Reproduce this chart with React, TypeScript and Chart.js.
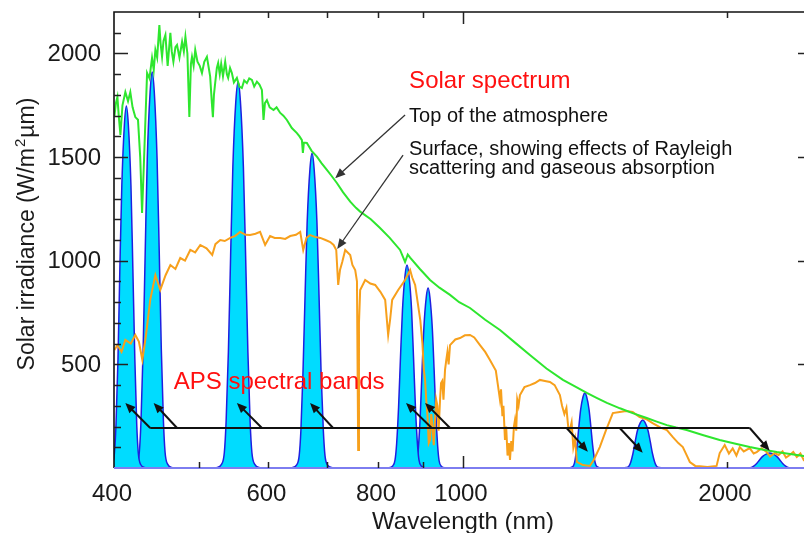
import React, { useEffect, useRef } from 'react';
import { Chart, registerables } from 'chart.js';
Chart.register(...registerables);

// ---------- data (wavelength nm, irradiance W/m2/um) ----------
const toaWavelength = [400.4, 402, 403.6, 405, 406.8, 409, 412.1, 415, 417.5, 420, 423, 426, 428.5, 430.6, 432.5, 434.4, 436.3, 439, 442, 444, 445.9, 448, 450.6, 452, 453.8, 455.5, 457.8, 460.5, 463.8, 465.5, 467.5, 470, 472, 475, 478.3, 480.5, 482.5, 485, 487.5, 489.5, 490.9, 493, 495.1, 498, 501, 503.9, 507, 510.5, 513, 514.9, 517.2, 518.6, 520, 521.7, 524, 525.8, 528, 530, 532.5, 535.6, 538, 539.8, 542.5, 545.1, 548, 552.3, 556, 559.6, 563, 567, 570.5, 574.5, 578, 582.1, 586, 589.8, 592.3, 594.5, 597.6, 602, 608.1, 613, 618.9, 624, 629.8, 638, 646.6, 651, 655.1, 656.8, 658.5, 663.7, 672, 681.4, 690, 699.5, 708, 718.1, 730, 743.7, 755, 763.4, 785, 804.3, 825, 847.7, 858.9, 865, 870.4, 893, 917.1, 940, 966.5, 990, 1018.6, 1060, 1102, 1150, 1192, 1245, 1300, 1340, 1384, 1420, 1459, 1510, 1561, 1620, 1660, 1708, 1750, 1799, 1880, 1962, 2040, 2123, 2200, 2279, 2360, 2446, 2500];
const toaIrradiance = [1695, 1760, 1790, 1700, 1607, 1750, 1814, 1770, 1814, 1740, 1693, 1680, 1500, 1230, 1450, 1679, 1906, 1880, 1978, 1920, 2017, 1980, 2137, 2050, 1984, 2060, 2089, 1940, 2099, 2010, 1960, 2030, 2041, 1980, 2057, 2010, 2081, 2000, 1693, 1950, 1984, 1940, 2017, 1960, 1940, 1906, 1960, 1984, 1930, 1888, 1760, 1693, 1800, 1857, 1930, 1954, 1900, 1950, 1890, 1960, 1900, 1882, 1930, 1906, 1860, 1882, 1840, 1833, 1870, 1857, 1880, 1872, 1840, 1864, 1850, 1824, 1679, 1760, 1775, 1740, 1727, 1740, 1713, 1700, 1679, 1640, 1616, 1600, 1582, 1520, 1570, 1568, 1530, 1502, 1470, 1438, 1410, 1375, 1330, 1285, 1255, 1237, 1200, 1158, 1110, 1052, 994, 1030, 1015, 960, 907, 870, 835, 800, 772, 715, 666, 600, 545, 480, 425, 395, 362, 338, 314, 288, 265, 241, 225, 207, 195, 183, 158, 135, 118, 101, 88, 77, 68, 58, 54];

const surfaceWavelength = [400.4, 403.6, 408, 412.1, 418, 423, 427, 430.9, 435, 439.9, 445.9, 451.7, 458, 463.8, 470, 476, 482, 488.7, 495, 501.7, 510, 517.7, 522, 528.7, 535, 542.8, 550, 557, 565, 571.8, 580, 587, 594.8, 602.6, 610, 618.9, 627, 635.3, 645, 652.2, 657.4, 663, 669.3, 678, 687.5, 697, 705.7, 712, 716.9, 720.6, 724, 728.3, 734, 743.7, 748, 753.5, 757, 759.4, 761, 763.4, 773.5, 784, 794.1, 805, 815.2, 821.6, 826, 830.3, 843.5, 858.9, 870.4, 875, 881.9, 893.9, 899, 902, 905.2, 908, 911, 914, 917.1, 920, 923, 926, 929.2, 932, 935, 938, 941.5, 944, 947, 950, 953.9, 957, 960, 963, 966.5, 980, 992.2, 1005, 1018.6, 1030, 1045.6, 1060, 1073.3, 1090, 1096, 1102, 1105, 1109, 1112, 1116.5, 1120, 1124, 1128, 1131.3, 1135, 1139, 1143, 1146.2, 1150, 1153, 1157, 1161.3, 1175, 1192, 1208, 1223.8, 1240, 1256.3, 1272, 1289.7, 1297, 1305, 1312, 1318, 1324, 1330, 1336, 1342, 1348.5, 1370, 1395, 1410, 1432.1, 1455, 1482, 1509, 1535, 1561, 1590, 1620, 1645, 1680, 1708, 1734, 1760, 1781, 1800, 1814, 1840, 1862, 1900, 1946, 1962, 1988, 2010, 2030, 2050, 2068, 2090, 2123, 2145, 2162, 2190, 2219, 2240, 2267, 2290, 2314, 2335, 2358, 2380, 2402, 2425, 2446, 2470, 2500];
const surfaceIrradiance = [569, 593, 560, 618, 600, 642, 610, 521, 640, 811, 931, 859, 930, 979, 960, 1013, 1000, 1052, 1040, 1076, 1060, 1028, 1080, 1100, 1095, 1110, 1120, 1139, 1125, 1124, 1130, 1139, 1076, 1119, 1110, 1110, 1105, 1119, 1125, 1139, 1052, 1110, 1124, 1115, 1110, 1100, 1090, 1076, 1052, 883, 955, 994, 1052, 1028, 980, 955, 900, 87, 700, 859, 907, 890, 883, 850, 811, 642, 720, 811, 859, 907, 955, 920, 883, 714, 600, 480, 425, 330, 250, 120, 135, 260, 200, 110, 232, 330, 300, 180, 328, 410, 420, 330, 473, 520, 560, 500, 593, 620, 627, 640, 642, 630, 593, 560, 521, 470, 400, 328, 380, 250, 300, 135, 200, 60, 120, 39, 130, 80, 200, 232, 180, 330, 300, 352, 390, 400, 410, 425, 420, 415, 400, 352, 300, 260, 290, 200, 183, 220, 100, 140, 29, 14, 10, 40, 101, 180, 265, 270, 275, 270, 246, 235, 217, 195, 183, 150, 120, 101, 60, 29, 10, 8, 5, 10, 72, 111, 70, 95, 60, 101, 80, 96, 70, 77, 95, 77, 55, 72, 63, 80, 50, 63, 77, 53, 70, 39, 55, 48];

// APS spectral band responses [wavelength, irradiance]
const band410: [number, number][] = [[392.6, 0], [398.0, 17], [400.4, 70], [402.1, 210], [404.2, 524], [406.2, 961], [408.3, 1363], [411.1, 1660], [413.2, 1747], [415.3, 1660], [418.2, 1363], [420.3, 961], [422.5, 524], [424.6, 210], [426.4, 70], [429.0, 17], [434.9, 0]];
const band443: [number, number][] = [[418.5, 0], [424.7, 19], [427.5, 76], [429.4, 229], [431.8, 573], [434.2, 1051], [436.5, 1491], [439.8, 1815], [442.2, 1911], [444.6, 1815], [447.9, 1491], [450.4, 1051], [452.9, 573], [455.4, 229], [457.4, 76], [460.4, 19], [467.2, 0]];
const band555: [number, number][] = [[522.3, 0], [530.7, 19], [534.4, 75], [536.9, 224], [540.1, 559], [543.3, 1025], [546.5, 1454], [550.8, 1771], [554.1, 1864], [557.4, 1771], [561.8, 1454], [565.1, 1025], [568.5, 559], [571.8, 224], [574.5, 75], [578.6, 19], [587.8, 0]];
const band670: [number, number][] = [[636.8, 0], [646.2, 15], [650.5, 61], [653.4, 182], [656.9, 455], [660.6, 835], [664.2, 1184], [669.1, 1442], [672.8, 1518], [676.5, 1442], [681.5, 1184], [685.2, 835], [689.0, 455], [693.0, 182], [696.0, 61], [700.5, 15], [710.9, 0]];
const band865: [number, number][] = [[820.2, 0], [831.5, 10], [836.6, 39], [840.1, 117], [844.4, 294], [848.7, 538], [853.1, 764], [858.9, 930], [863.3, 979], [867.7, 930], [873.7, 764], [878.1, 538], [882.6, 294], [887.2, 117], [890.8, 39], [896.3, 10], [908.6, 0]];
const band910: [number, number][] = [[870.3, 0], [881.4, 9], [886.4, 35], [889.7, 104], [894.0, 260], [898.2, 477], [902.4, 677], [908.1, 825], [912.4, 868], [916.7, 825], [922.5, 677], [926.9, 477], [931.3, 260], [935.7, 104], [939.2, 35], [944.5, 9], [956.6, 0]];
const band1370: [number, number][] = [[1313.5, 0], [1330.2, 4], [1337.7, 14], [1342.7, 43], [1349.2, 109], [1355.5, 199], [1361.9, 282], [1370.5, 344], [1377, 362], [1383.5, 344], [1392.3, 282], [1398.9, 199], [1405.5, 109], [1412.1, 43], [1417.5, 14], [1425.5, 4], [1443.6, 0]];
const band1610: [number, number][] = [[1511.1, 0], [1535.2, 2], [1545.9, 9], [1553.3, 28], [1562.4, 70], [1571.7, 128], [1581.0, 181], [1593.5, 220], [1603, 232], [1612.5, 220], [1625.3, 181], [1634.9, 128], [1644.5, 70], [1654.3, 28], [1662.2, 9], [1673.9, 2], [1700.5, 0]];
const band2250: [number, number][] = [[2067.9, 0], [2111.7, 1], [2131.6, 3], [2145.1, 9], [2162.1, 22], [2179.1, 40], [2196.3, 56], [2219.6, 68], [2237, 72], [2254.7, 68], [2278.4, 56], [2296.5, 40], [2314.6, 22], [2332.9, 9], [2347.3, 3], [2369.9, 1], [2420.2, 0]];
const bands = [band410, band443, band555, band670, band865, band910, band1370, band1610, band2250];

// axis ticks
const xTickLabels = [400, 600, 800, 1000, 2000];
const xMinorTicks = [500, 600, 700, 800, 900, 2000];
const xMajorTicks = [1000];
const yTickLabels = [500, 1000, 1500, 2000];

// annotation anchors (data units)
const bandLineLevel = 193;
const bandArrowStarts = [439.9, 472.0, 589.8, 711.0, 921.2, 966.5, 1312.6, 1509, 2123];
const bandArrowTips: [number, number][] = [[412.1, 314], [443.9, 314], [552.3, 314], [669.3, 314], [861.1, 314], [905.2, 314], [1388, 79], [1603, 74], [2237, 83]];
const toaArrow: [number, number][] = [[858.9, 1703], [714.9, 1398]];
const surfaceArrow: [number, number][] = [[854.4, 1510], [718.7, 1057]];

const FONT = '"Liberation Sans", Arial, Helvetica, sans-serif';
const GREEN = '#2ee62e';
const ORANGE = '#f7a01c';
const CYAN = '#00dcff';
const BLUE = '#1f1fe0';

function drawArrow(ctx: CanvasRenderingContext2D, x1: number, y1: number, x2: number, y2: number) {
  const ang = Math.atan2(y2 - y1, x2 - x1);
  const head = 11;
  ctx.beginPath();
  ctx.moveTo(x1, y1);
  ctx.lineTo(x2 - 6 * Math.cos(ang), y2 - 6 * Math.sin(ang));
  ctx.stroke();
  ctx.beginPath();
  ctx.moveTo(x2, y2);
  ctx.lineTo(x2 - head * Math.cos(ang - 0.4), y2 - head * Math.sin(ang - 0.4));
  ctx.lineTo(x2 - head * Math.cos(ang + 0.4), y2 - head * Math.sin(ang + 0.4));
  ctx.closePath();
  ctx.fill();
}

const decorPlugin = {
  id: 'decor',
  afterDraw(chart: any) {
    const { ctx, chartArea: a, scales } = chart;
    const xs = scales.x;
    const ys = scales.y;
    const X = (v: number) => xs.getPixelForValue(v);
    const Y = (v: number) => ys.getPixelForValue(v);
    ctx.save();
    // frame
    ctx.lineWidth = 1.6;
    ctx.strokeStyle = '#111';
    ctx.beginPath();
    ctx.moveTo(a.left, a.bottom);
    ctx.lineTo(a.left, a.top);
    ctx.lineTo(a.right, a.top);
    ctx.lineTo(a.right, a.bottom);
    ctx.stroke();
    ctx.strokeStyle = '#7d7df0';
    ctx.lineWidth = 2;
    ctx.beginPath();
    ctx.moveTo(a.left, a.bottom);
    ctx.lineTo(a.right, a.bottom);
    ctx.stroke();
    // y ticks
    ctx.strokeStyle = '#222';
    ctx.lineWidth = 1.5;
    for (let v = 100; v < 2200; v += 100) {
      const py = Math.round(Y(v)) + 0.5;
      const major = v % 500 === 0;
      ctx.beginPath();
      ctx.moveTo(a.left, py);
      ctx.lineTo(a.left + (major ? 14 : 7), py);
      ctx.stroke();
      if (major) {
        ctx.beginPath();
        ctx.moveTo(a.right, py);
        ctx.lineTo(a.right - 14, py);
        ctx.stroke();
      }
    }
    // x ticks (top and bottom, inward)
    const xt = (v: number, len: number) => {
      const px = Math.round(X(v)) + 0.5;
      ctx.beginPath();
      ctx.moveTo(px, a.top);
      ctx.lineTo(px, a.top + len);
      ctx.moveTo(px, a.bottom);
      ctx.lineTo(px, a.bottom - len);
      ctx.stroke();
    };
    xMinorTicks.forEach((v) => xt(v, 6));
    xMajorTicks.forEach((v) => xt(v, 12));
    // tick labels
    ctx.fillStyle = '#1a1a1a';
    ctx.font = `24px ${FONT}`;
    ctx.textAlign = 'right';
    ctx.textBaseline = 'middle';
    yTickLabels.forEach((v) => ctx.fillText(String(v), a.left - 13, Y(v) + 1));
    ctx.textAlign = 'center';
    ctx.textBaseline = 'alphabetic';
    xTickLabels.forEach((v) => ctx.fillText(String(v), X(v) - 2, a.bottom + 33));
    // axis titles
    ctx.fillText('Wavelength (nm)', X(1000), a.bottom + 61);
    ctx.save();
    ctx.translate(34, 234);
    ctx.rotate(-Math.PI / 2);
    const big = `23px ${FONT}`;
    const small = `15px ${FONT}`;
    const p1 = 'Solar irradiance (W/m';
    const p2 = '2';
    const p3 = '\u00b5m)';
    ctx.font = big;
    const w1 = ctx.measureText(p1).width;
    const w3 = ctx.measureText(p3).width;
    ctx.font = small;
    const w2 = ctx.measureText(p2).width + 2;
    const total = w1 + w2 + w3;
    ctx.textAlign = 'left';
    let cx = -total / 2;
    ctx.font = big;
    ctx.fillText(p1, cx, 0);
    cx += w1;
    ctx.font = small;
    ctx.fillText(p2, cx + 1, -9);
    cx += w2;
    ctx.font = big;
    ctx.fillText(p3, cx, 0);
    ctx.restore();

    // annotations
    ctx.strokeStyle = '#111';
    ctx.fillStyle = '#111';
    ctx.lineWidth = 2;
    const ly = Y(bandLineLevel);
    ctx.beginPath();
    ctx.moveTo(X(bandArrowStarts[0]), ly);
    ctx.lineTo(X(bandArrowStarts[bandArrowStarts.length - 1]), ly);
    ctx.stroke();
    bandArrowStarts.forEach((s, i) => {
      const t = bandArrowTips[i];
      drawArrow(ctx, X(s), ly, X(t[0]), Y(t[1]));
    });
    ctx.lineWidth = 1.3;
    ctx.strokeStyle = '#333';
    ctx.fillStyle = '#333';
    drawArrow(ctx, X(toaArrow[0][0]), Y(toaArrow[0][1]), X(toaArrow[1][0]), Y(toaArrow[1][1]));
    drawArrow(ctx, X(surfaceArrow[0][0]), Y(surfaceArrow[0][1]), X(surfaceArrow[1][0]), Y(surfaceArrow[1][1]));

    ctx.textAlign = 'left';
    ctx.textBaseline = 'alphabetic';
    ctx.fillStyle = '#ff1010';
    ctx.font = `24px ${FONT}`;
    ctx.fillText('Solar spectrum', X(868.1), Y(1833));
    ctx.fillText('APS spectral bands', X(467.9), Y(381));
    ctx.fillStyle = '#111';
    ctx.font = `20px ${FONT}`;
    ctx.fillText('Top of the atmosphere', X(868.1), Y(1669));
    ctx.fillText('Surface, showing effects of Rayleigh', X(868.1), Y(1510));
    ctx.fillText('scattering and gaseous absorption', X(868.1), Y(1418));
    ctx.restore();
  },
};

export default function App() {
  const ref = useRef<HTMLCanvasElement>(null);
  useEffect(() => {
    document.body.style.margin = '0';
    document.body.style.overflow = 'hidden';
    const toXY = (ws: number[], vs: number[]) => ws.map((w, i) => ({ x: w, y: vs[i] }));
    const bandSets = bands.map((b) => ({
      data: b.map(([x, y]) => ({ x, y })),
      borderColor: BLUE,
      backgroundColor: CYAN,
      borderWidth: 1.5,
      fill: 'origin',
      pointRadius: 0,
      cubicInterpolationMode: 'monotone' as const,
      order: 2,
    }));
    const chart = new Chart(ref.current!, {
      type: 'line',
      data: {
        datasets: [
          { data: toXY(toaWavelength, toaIrradiance), borderColor: GREEN, borderWidth: 2, pointRadius: 0, fill: false, order: 0 },
          { data: toXY(surfaceWavelength, surfaceIrradiance), borderColor: ORANGE, borderWidth: 2, pointRadius: 0, fill: false, order: 1 },
          ...bandSets,
        ] as any,
      },
      options: {
        responsive: false,
        animation: false,
        devicePixelRatio: 1,
        events: [],
        layout: { padding: { top: 12, right: 18, left: 0, bottom: 0 } },
        plugins: { legend: { display: false }, tooltip: { enabled: false } },
        scales: {
          x: {
            type: 'logarithmic', min: 400, max: 2500,
            ticks: { display: false }, grid: { display: false }, border: { display: false },
            afterFit: (s: any) => { s.height = 65; },
          },
          y: {
            type: 'linear', min: 0, max: 2200,
            ticks: { display: false }, grid: { display: false }, border: { display: false },
            afterFit: (s: any) => { s.width = 114; },
          },
        },
      },
      plugins: [decorPlugin],
    });
    return () => chart.destroy();
  }, []);
  return (
    <div style={{ width: 804, height: 533, overflow: 'hidden', position: 'relative', background: '#fff' }}>
      <canvas ref={ref} width={830} height={533} style={{ display: 'block' }} />
    </div>
  );
}
